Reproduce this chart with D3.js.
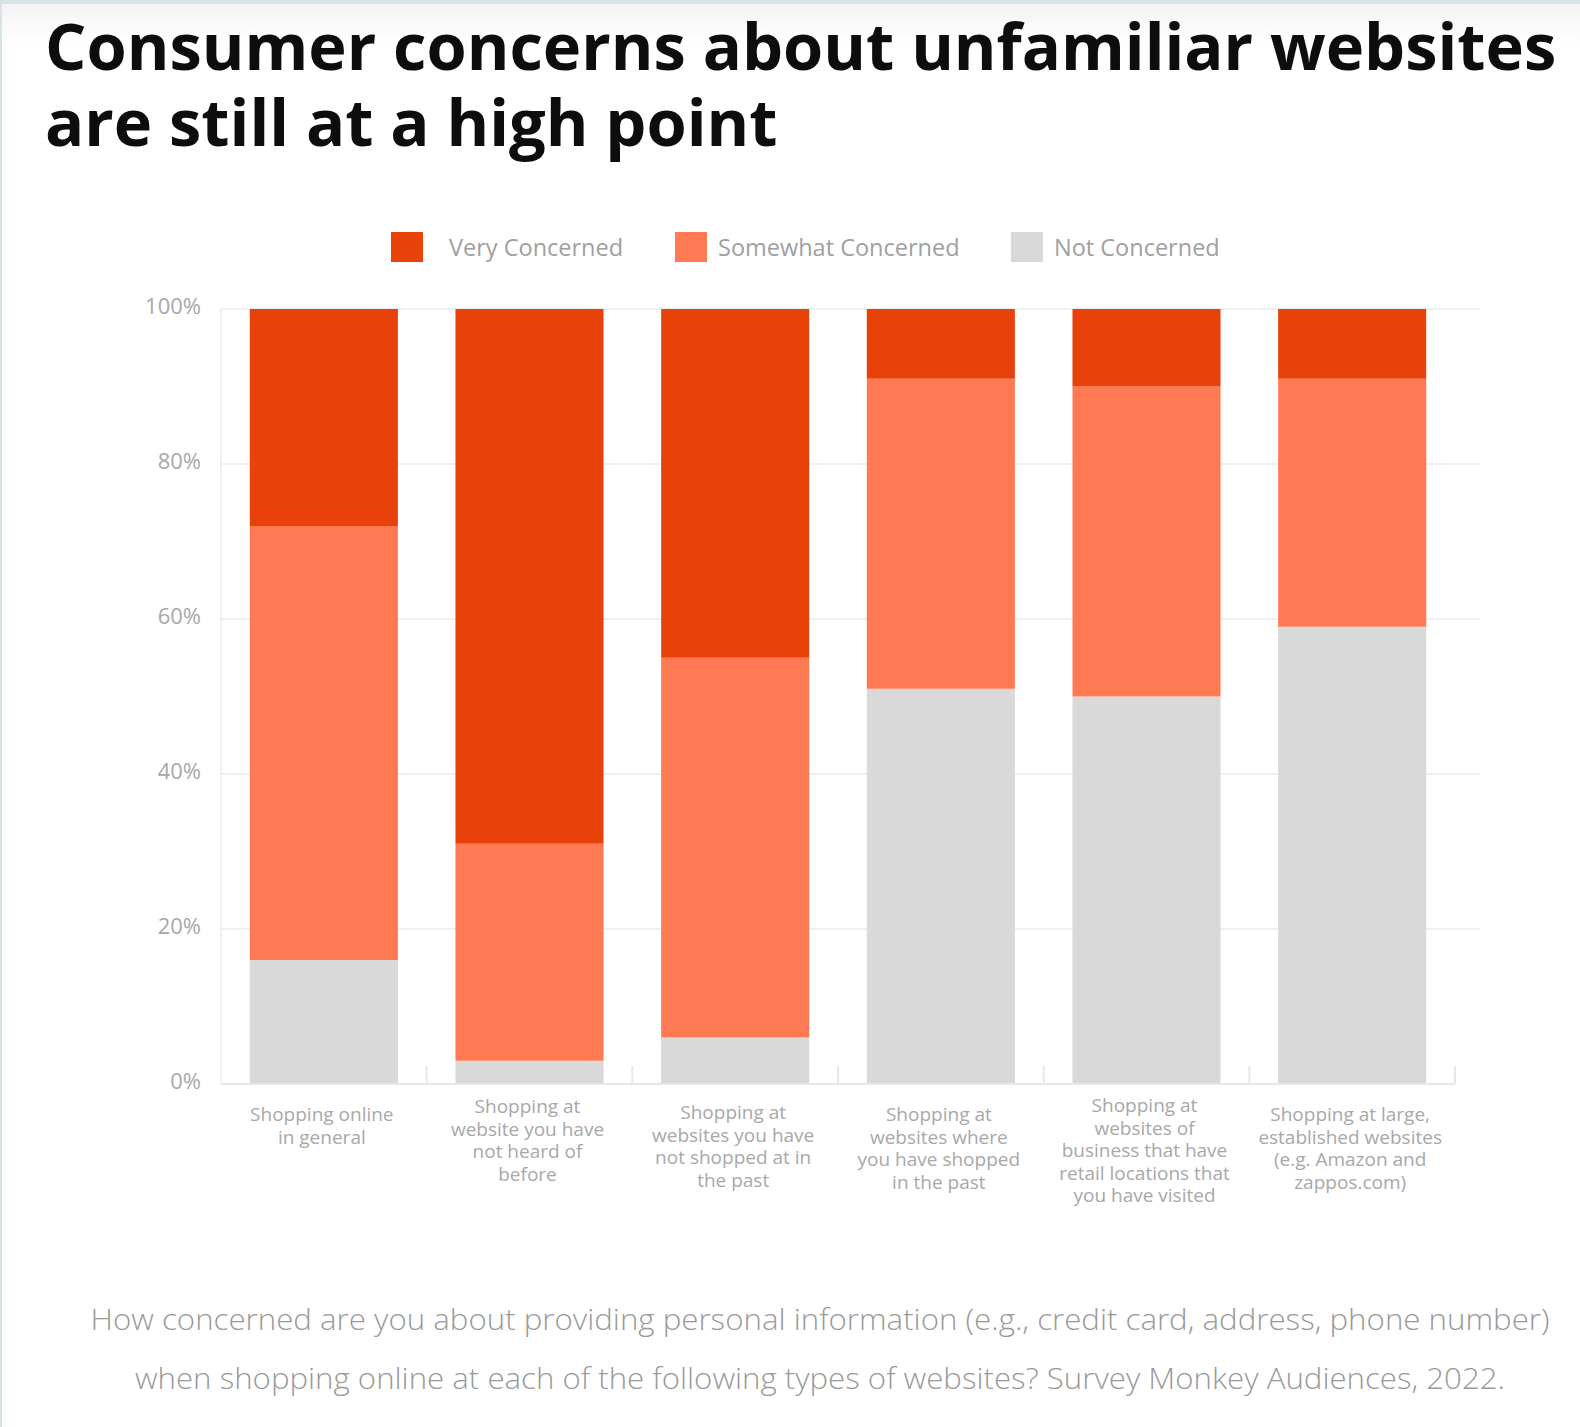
<!DOCTYPE html>
<html>
<head>
<meta charset="utf-8">
<script src="https://cdn.jsdelivr.net/npm/d3@7"></script>
<style>
  html, body { margin: 0; padding: 0; background: #ffffff; }
  svg { display: block; font-family: "Open Sans", "Noto Sans", sans-serif; }
</style>
</head>
<body>
<div id="chart"></div>
<script>
// Chart data
const categories = [
    "Shopping online|in general",
    "Shopping at|website you have|not heard of|before",
    "Shopping at|websites you have|not shopped at in|the past",
    "Shopping at|websites where|you have shopped|in the past",
    "Shopping at|websites of|business that have|retail locations that|you have visited",
    "Shopping at large,|established websites|(e.g. Amazon and|zappos.com)"
];
const seriesNames = ["Not Concerned", "Somewhat Concerned", "Very Concerned"];
const notConcerned = [16, 3, 6, 51, 50, 59];
const somewhatConcerned = [56, 28, 49, 40, 40, 32];
const veryConcerned = [28, 69, 45, 9, 10, 9];
const yTicks = [0, 20, 40, 60, 80, 100];
const legendOrder = ["Very Concerned", "Somewhat Concerned", "Not Concerned"];

const titleLines = ["Consumer concerns about unfamiliar websites", "are still at a high point"];
const noteLines = [
    "How concerned are you about providing personal information (e.g., credit card, address, phone number)",
    "when shopping online at each of the following types of websites? Survey Monkey Audiences, 2022."
];

// Colors
const colors = {
    "Very Concerned": "#e9410a",
    "Somewhat Concerned": "#ff7a52",
    "Not Concerned": "#d9d9d9"
};

const width = 1580, height = 1427;
const plot = { left: 221, right: 1455, gridRight: 1480, top: 309, bottom: 1084 };

const svg = d3.select("#chart").append("svg")
    .attr("width", width)
    .attr("height", height);

// page frame
svg.append("rect").attr("width", width).attr("height", height).attr("fill", "#ffffff");
const grad = svg.append("defs").append("linearGradient")
    .attr("id", "topfade").attr("x1", 0).attr("x2", 0).attr("y1", 0).attr("y2", 1);
grad.append("stop").attr("offset", "0%").attr("stop-color", "#f2f2f2");
grad.append("stop").attr("offset", "100%").attr("stop-color", "#ffffff");
svg.append("rect").attr("x", 0).attr("y", 0).attr("width", width).attr("height", 45).attr("fill", "url(#topfade)");
svg.append("rect").attr("x", 0).attr("y", 0).attr("width", width).attr("height", 4).attr("fill", "#d6e4e6");
svg.append("rect").attr("x", 0).attr("y", 0).attr("width", 2).attr("height", height).attr("fill", "#d6e4e6");

// Title
svg.append("g").selectAll("text")
    .data(titleLines)
    .enter()
    .append("text")
    .attr("x", 45)
    .attr("y", (d, i) => 70 + i * 76)
    .attr("font-size", 65)
    .attr("font-weight", 700)
    .attr("fill", "#0d0d0d")
    .text(d => d);

// Scales
const x = d3.scaleBand()
    .domain(categories)
    .range([plot.left, plot.right])
    .paddingInner(0.28)
    .paddingOuter(0.14);

const y = d3.scaleLinear()
    .domain([0, 100])
    .range([plot.bottom, plot.top]);

// Gridlines
const grid = svg.append("g").attr("class", "grid");
grid.selectAll("line")
    .data(yTicks.filter(t => t > 0))
    .enter()
    .append("line")
    .attr("x1", plot.left)
    .attr("x2", plot.gridRight)
    .attr("y1", d => y(d))
    .attr("y2", d => y(d))
    .attr("stroke", "#f0f0f0")
    .attr("stroke-width", 2);

grid.append("line")
    .attr("x1", plot.left).attr("x2", plot.left)
    .attr("y1", plot.top).attr("y2", plot.bottom)
    .attr("stroke", "#f0f0f0").attr("stroke-width", 2);

// Y axis labels
const yAxis = svg.append("g")
    .attr("transform", `translate(${plot.left - 20},-3)`)
    .call(d3.axisLeft(y).tickValues(yTicks).tickFormat(d => d + "%").tickSize(0));
yAxis.select(".domain").remove();
yAxis.selectAll("text")
    .attr("x", 0)
    .attr("font-family", "Open Sans")
    .attr("font-size", 22)
    .attr("fill", "#a8a8a8");

// Stacked bars
const table = categories.map((c, i) => ({
    category: c,
    "Not Concerned": notConcerned[i],
    "Somewhat Concerned": somewhatConcerned[i],
    "Very Concerned": veryConcerned[i]
}));
const stacked = d3.stack().keys(seriesNames)(table);

svg.append("g").selectAll("g")
    .data(stacked)
    .enter()
    .append("g")
    .attr("fill", d => colors[d.key])
    .selectAll("rect")
    .data(d => d)
    .enter()
    .append("rect")
    .attr("x", d => x(d.data.category))
    .attr("width", x.bandwidth())
    .attr("y", d => y(d[1]))
    .attr("height", d => y(d[0]) - y(d[1]));

// X axis baseline and ticks between bands
const xAxisG = svg.append("g");
xAxisG.append("line")
    .attr("x1", plot.left).attr("x2", plot.right)
    .attr("y1", plot.bottom).attr("y2", plot.bottom)
    .attr("stroke", "#e8e8e8").attr("stroke-width", 2);
const boundaries = categories.map(c => x(c) - x.step() * x.paddingOuter()).concat([plot.right]);
xAxisG.selectAll(".xtick")
    .data(boundaries.slice(1))
    .enter()
    .append("line")
    .attr("class", "xtick")
    .attr("x1", d => d).attr("x2", d => d)
    .attr("y1", plot.bottom).attr("y2", plot.bottom - 18)
    .attr("stroke", "#e8e8e8").attr("stroke-width", 2);

// Category labels (small vertical nudges like the reference)
const labelStart = [1121, 1113, 1119, 1121, 1112, 1121];
const labels = svg.append("g");
categories.forEach((c, i) => {
    const t = labels.append("text")
        .attr("text-anchor", "middle")
        .attr("font-size", 19)
        .attr("fill", "#a8a8a8");
    c.split("|").forEach((line, j) => {
        t.append("tspan")
            .attr("x", x(c) + x.bandwidth() / 2 - 2)
            .attr("y", labelStart[i] + j * 22.5)
            .text(line);
    });
});

// Legend
const legendX = [391, 675, 1011];
const legend = svg.append("g");
legendOrder.forEach((name, i) => {
    legend.append("rect")
        .attr("x", legendX[i]).attr("y", 232)
        .attr("width", 32).attr("height", 30)
        .attr("fill", colors[name]);
    legend.append("text")
        .attr("x", legendX[i] + (i === 0 ? 58 : 43))
        .attr("y", 256)
        .attr("font-size", 23.5)
        .attr("fill", "#a0a0a0")
        .text(name);
});

// Footnote
svg.append("g").selectAll("text")
    .data(noteLines)
    .enter()
    .append("text")
    .attr("x", 820)
    .attr("y", (d, i) => 1330 + i * 59)
    .attr("text-anchor", "middle")
    .attr("font-size", 29)
    .attr("font-weight", 300)
    .attr("fill", "#9a9a9a")
    .attr("textLength", (d, i) => i === 0 ? 1459 : 1370)
    .attr("lengthAdjust", "spacingAndGlyphs")
    .text(d => d);
</script>
</body>
</html>
